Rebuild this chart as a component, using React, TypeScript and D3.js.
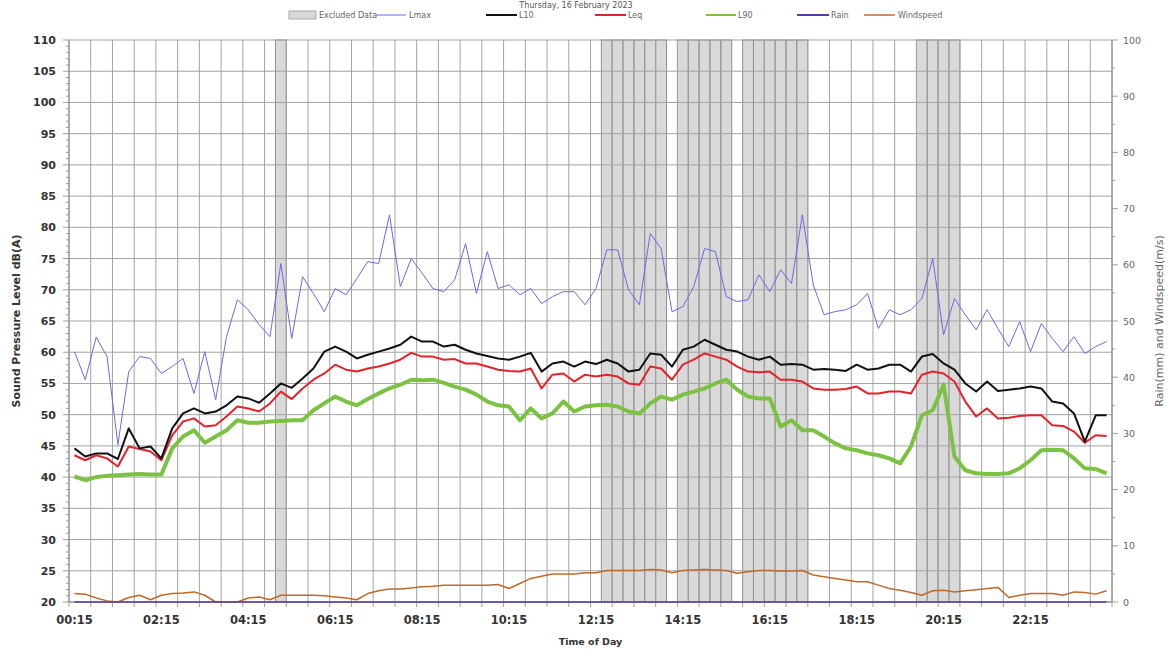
import React from 'react';
import * as d3 from 'd3';

const W = 1173;
const H = 650;

const titleText = 'Thursday, 16 February 2023';

// 15-minute interval end times, 00:15 ... 00:00 (midnight)
const categories: string[] = d3.range(96).map((i) => {
  const m = (i + 1) * 15;
  const h = Math.floor(m / 60) % 24;
  const mm = m % 60;
  return `${String(h).padStart(2, '0')}:${String(mm).padStart(2, '0')}`;
});

const xTickLabels = ['00:15', '02:15', '04:15', '06:15', '08:15', '10:15', '12:15', '14:15', '16:15', '18:15', '20:15', '22:15'];
const leftTicks = [20, 25, 30, 35, 40, 45, 50, 55, 60, 65, 70, 75, 80, 85, 90, 95, 100, 105, 110];
const rightTicks = [0, 10, 20, 30, 40, 50, 60, 70, 80, 90, 100];

const excluded = ['05:00', '12:30', '12:45', '13:00', '13:15', '13:30', '13:45', '14:15', '14:30', '14:45', '15:00', '15:15', '15:45', '16:00', '16:15', '16:30', '16:45', '17:00', '19:45', '20:00', '20:15', '20:30'];

const lmax = [
  60.1, 55.6, 62.4, 59.3, 45.2, 56.9, 59.3, 59.0, 56.6, 57.7, 59.0, 53.4, 60.1, 52.4, 62.5, 68.4, 66.8, 64.4, 62.5, 74.2, 62.2, 72.1, 69.4, 66.5,
  70.2, 69.2, 71.8, 74.5, 74.2, 82.0, 70.5, 75.0, 72.7, 70.2, 69.7, 71.6, 77.4, 69.4, 76.1, 70.2, 70.8, 69.2, 70.2, 67.8, 68.9, 69.7, 69.7, 67.6,
  70.2, 76.4, 76.4, 70.0, 67.6, 79.0, 76.6, 66.5, 67.3, 70.5, 76.6, 76.1, 68.9, 68.1, 68.4, 72.4, 69.7, 73.2, 71.0, 82.0, 70.8, 66.0, 66.5, 66.8,
  67.6, 69.4, 63.8, 66.8, 66.0, 66.8, 68.6, 75.0, 62.8, 68.6, 66.0, 63.6, 66.8, 63.8, 60.9, 64.9, 60.1, 64.6, 62.2, 60.1, 62.5, 59.8, 60.9, 61.7,
];

const l10 = [
  44.6, 43.3, 43.8, 43.8, 42.9, 47.8, 44.6, 44.9, 43.0, 47.8, 50.2, 51.0, 50.2, 50.5, 51.5, 52.9, 52.6, 51.9, 53.4, 55.0, 54.3, 55.8, 57.4, 60.1,
  60.9, 60.1, 59.0, 59.6, 60.1, 60.6, 61.2, 62.5, 61.7, 61.7, 60.9, 61.2, 60.4, 59.8, 59.4, 59.0, 58.8, 59.3, 59.9, 56.9, 58.2, 58.5, 57.7, 58.5,
  58.1, 58.8, 58.2, 56.9, 57.2, 59.8, 59.6, 57.7, 60.4, 60.9, 62.0, 61.2, 60.4, 60.1, 59.3, 58.8, 59.3, 58.0, 58.1, 58.0, 57.2, 57.3, 57.2, 57.0,
  58.0, 57.2, 57.4, 58.0, 58.0, 56.9, 59.3, 59.7, 58.2, 57.2, 55.0, 53.7, 55.3, 53.8, 54.0, 54.2, 54.5, 54.2, 52.1, 51.8, 50.2, 45.7, 49.9, 49.9,
];

const leq = [
  43.5, 42.7, 43.5, 43.0, 41.7, 44.9, 44.5, 44.1, 42.7, 46.7, 48.9, 49.4, 48.1, 48.3, 49.7, 51.3, 51.0, 50.5, 51.8, 53.7, 52.5, 54.2, 55.6, 56.6,
  58.0, 57.2, 56.9, 57.4, 57.7, 58.2, 58.8, 59.9, 59.3, 59.3, 58.8, 58.9, 58.2, 58.2, 57.7, 57.2, 57.0, 56.9, 57.4, 54.2, 56.4, 56.6, 55.3, 56.4,
  56.1, 56.4, 56.1, 55.0, 54.8, 57.7, 57.4, 55.6, 58.0, 58.8, 59.8, 59.3, 58.8, 57.7, 56.9, 56.8, 56.9, 55.6, 55.6, 55.3, 54.2, 54.0, 54.0, 54.1,
  54.5, 53.4, 53.4, 53.7, 53.7, 53.4, 56.4, 56.9, 56.6, 55.3, 52.1, 49.7, 51.0, 49.4, 49.5, 49.8, 49.9, 49.9, 48.3, 48.2, 47.3, 45.5, 46.7, 46.6,
];

const l90 = [
  40.1, 39.5, 40.0, 40.2, 40.3, 40.4, 40.5, 40.4, 40.4, 44.6, 46.5, 47.5, 45.5, 46.5, 47.5, 49.1, 48.7, 48.7, 48.9, 49.0, 49.1, 49.1, 50.7, 51.8,
  52.9, 52.1, 51.5, 52.5, 53.4, 54.2, 54.8, 55.6, 55.5, 55.6, 55.1, 54.5, 54.0, 53.2, 52.1, 51.5, 51.3, 49.1, 51.0, 49.4, 50.2, 52.1, 50.5, 51.3,
  51.5, 51.6, 51.3, 50.5, 50.2, 51.8, 52.9, 52.4, 53.2, 53.7, 54.2, 55.0, 55.6, 54.0, 52.9, 52.6, 52.6, 48.1, 49.1, 47.5, 47.5, 46.5, 45.4, 44.6,
  44.3, 43.8, 43.5, 43.0, 42.2, 44.9, 49.9, 50.7, 54.8, 43.3, 41.1, 40.6, 40.5, 40.5, 40.6, 41.4, 42.7, 44.3, 44.4, 44.3, 43.0, 41.4, 41.3, 40.6,
];

const rain = [
  0, 0, 0, 0, 0, 0, 0, 0, 0, 0, 0, 0, 0, 0, 0, 0, 0, 0, 0, 0, 0, 0, 0, 0,
  0, 0, 0, 0, 0, 0, 0, 0, 0, 0, 0, 0, 0, 0, 0, 0, 0, 0, 0, 0, 0, 0, 0, 0,
  0, 0, 0, 0, 0, 0, 0, 0, 0, 0, 0, 0, 0, 0, 0, 0, 0, 0, 0, 0, 0, 0, 0, 0,
  0, 0, 0, 0, 0, 0, 0, 0, 0, 0, 0, 0, 0, 0, 0, 0, 0, 0, 0, 0, 0, 0, 0, 0,
];

const windspeed = [
  1.5, 1.4, 0.7, 0.2, 0.0, 0.8, 1.2, 0.4, 1.2, 1.5, 1.6, 1.8, 1.2, 0.0, 0.0, 0.0, 0.7, 0.9, 0.4, 1.2, 1.2, 1.2, 1.2, 1.1,
  0.9, 0.7, 0.4, 1.5, 2.0, 2.3, 2.3, 2.5, 2.7, 2.8, 3.0, 3.0, 3.0, 3.0, 3.0, 3.1, 2.4, 3.3, 4.2, 4.6, 5.0, 5.0, 5.0, 5.2,
  5.2, 5.6, 5.6, 5.6, 5.6, 5.8, 5.7, 5.2, 5.6, 5.7, 5.8, 5.7, 5.6, 5.1, 5.4, 5.6, 5.6, 5.5, 5.5, 5.6, 4.8, 4.5, 4.2, 3.9,
  3.6, 3.6, 3.0, 2.4, 2.1, 1.7, 1.2, 2.0, 2.1, 1.8, 2.0, 2.2, 2.4, 2.6, 0.8, 1.2, 1.5, 1.5, 1.5, 1.2, 1.8, 1.7, 1.4, 2.0,
];

const COLORS = {
  lmax: '#6a6ae6',
  l10: '#111111',
  leq: '#e3222b',
  l90: '#7cc242',
  rain: '#5a3ca6',
  wind: '#bf6a2a',
  excl: '#d9d9d9',
  exclStroke: '#8f8f8f',
  grid: '#a3a3a3',
};

const PL = 69;
const PR = 1112;
const PT = 40;
const PB = 602;

export default function App() {
  const x = d3.scaleBand<string>().domain(categories).range([PL, PR]).padding(0);
  const bw = x.bandwidth();
  const xc = (c: string) => (x(c) as number) + bw / 2;
  const yL = d3.scaleLinear().domain([20, 110]).range([PB, PT]);
  const yR = d3.scaleLinear().domain([0, 100]).range([PB, PT]);

  const lineL = d3
    .line<number>()
    .x((_, i) => xc(categories[i]))
    .y((d) => yL(d));
  const lineR = d3
    .line<number>()
    .x((_, i) => xc(categories[i]))
    .y((d) => yR(d));

  const vGrid = categories.filter((_, i) => i % 2 === 0).map((c) => x(c) as number).concat([PR]);
  const minorL = d3.range(20, 111, 1);
  const minorR = d3.range(0, 101, 5);

  const font = 'DejaVu Sans, Verdana, sans-serif';

  const legend = [
    { kind: 'rect', label: 'Excluded Data', x0: 289, x1: 316, tx: 319 },
    { kind: 'line', label: 'Lmax', color: COLORS.lmax, w: 1, x0: 376, x1: 406, tx: 409 },
    { kind: 'line', label: 'L10', color: COLORS.l10, w: 2, x0: 486, x1: 517, tx: 519 },
    { kind: 'line', label: 'Leq', color: COLORS.leq, w: 2, x0: 595, x1: 626, tx: 628 },
    { kind: 'line', label: 'L90', color: COLORS.l90, w: 2, x0: 706, x1: 736, tx: 738 },
    { kind: 'line', label: 'Rain', color: COLORS.rain, w: 2, x0: 797, x1: 829, tx: 831 },
    { kind: 'line', label: 'Windspeed', color: COLORS.wind, w: 1.5, x0: 864, x1: 895, tx: 898 },
  ];

  return (
    <svg
      width={W}
      height={H}
      viewBox={`0 0 ${W} ${H}`}
      style={{ position: 'absolute', left: 0, top: 0, background: '#fff' }}
      fontFamily={font}
    >
      <rect x={0} y={0} width={W} height={H} fill="#fff" />
      {/* title */}
      <text x={576} y={8} textAnchor="middle" fontSize={8} fill="#555">
        {titleText}
      </text>
      {/* legend */}
      {legend.map((l) => (
        <g key={l.label}>
          {l.kind === 'rect' ? (
            <rect x={l.x0} y={11} width={l.x1 - l.x0} height={8} fill={COLORS.excl} stroke="#9a9a9a" strokeWidth={0.8} />
          ) : (
            <line x1={l.x0} x2={l.x1} y1={15} y2={15} stroke={l.color} strokeWidth={l.w} />
          )}
          <text x={l.tx} y={18} fontSize={8} fill="#666">
            {l.label}
          </text>
        </g>
      ))}

      {/* excluded data bars */}
      {excluded.map((c) => (
        <rect key={c} x={x(c) as number} y={PT} width={bw} height={PB - PT} fill={COLORS.excl} stroke={COLORS.exclStroke} strokeWidth={1} />
      ))}

      {/* grid */}
      {leftTicks.map((t) => (
        <line key={'h' + t} x1={PL} x2={PR} y1={yL(t)} y2={yL(t)} stroke={COLORS.grid} strokeWidth={1} />
      ))}
      {vGrid.map((gx, i) => (
        <line key={'v' + i} x1={gx} x2={gx} y1={PT} y2={PB} stroke={COLORS.grid} strokeWidth={1} />
      ))}

      {/* axes */}
      <line x1={PL} x2={PL} y1={PT} y2={PB} stroke="#888" strokeWidth={1} />
      <line x1={PR} x2={PR} y1={PT} y2={PB} stroke="#888" strokeWidth={1} />
      <line x1={PL} x2={PR} y1={PB} y2={PB} stroke="#888" strokeWidth={1} />
      {minorL.map((t) => (
        <line key={'ml' + t} x1={PL - (t % 5 === 0 ? 6 : 3)} x2={PL} y1={yL(t)} y2={yL(t)} stroke="#888" strokeWidth={0.8} />
      ))}
      {minorR.map((t) => (
        <line key={'mr' + t} x1={PR} x2={PR + (t % 10 === 0 ? 6 : 3)} y1={yR(t)} y2={yR(t)} stroke="#888" strokeWidth={0.8} />
      ))}
      {vGrid.map((gx, i) => (
        <line key={'xt' + i} x1={gx} x2={gx} y1={PB} y2={PB + 5} stroke="#888" strokeWidth={0.8} />
      ))}

      {/* left tick labels */}
      {leftTicks.map((t) => (
        <text key={'lt' + t} x={56} y={yL(t) + 4} textAnchor="end" fontSize={11} fontWeight="bold" fill="#333">
          {t}
        </text>
      ))}
      {/* right tick labels */}
      {rightTicks.map((t) => (
        <text key={'rt' + t} x={1123} y={yR(t) + 3.5} textAnchor="start" fontSize={9.5} fill="#666">
          {t}
        </text>
      ))}
      {/* x tick labels */}
      {xTickLabels.map((c) => (
        <text key={'xl' + c} x={xc(c)} y={624} textAnchor="middle" fontSize={11.5} fontWeight="bold" fill="#333">
          {c}
        </text>
      ))}

      {/* axis titles */}
      <text x={(PL + PR) / 2} y={645} textAnchor="middle" fontSize={9.5} fontWeight="bold" fill="#333">
        Time of Day
      </text>
      <text
        transform={`translate(20, ${(PT + PB) / 2}) rotate(-90)`}
        textAnchor="middle"
        fontSize={11}
        fontWeight="bold"
        fill="#333"
      >
        Sound Pressure Level dB(A)
      </text>
      <text
        transform={`translate(1163, ${(PT + PB) / 2}) rotate(-90)`}
        textAnchor="middle"
        fontSize={11}
        fill="#666"
      >
        Rain(mm) and Windspeed(m/s)
      </text>

      {/* series */}
      <path d={lineR(windspeed) || ''} fill="none" stroke={COLORS.wind} strokeWidth={1.5} strokeLinejoin="round" />
      <path d={lineR(rain) || ''} fill="none" stroke={COLORS.rain} strokeWidth={1.5} />
      <path d={lineL(lmax) || ''} fill="none" stroke={COLORS.lmax} strokeWidth={1} strokeLinejoin="round" />
      <path d={lineL(l90) || ''} fill="none" stroke={COLORS.l90} strokeWidth={4} strokeLinejoin="round" />
      <path d={lineL(leq) || ''} fill="none" stroke={COLORS.leq} strokeWidth={2} strokeLinejoin="round" />
      <path d={lineL(l10) || ''} fill="none" stroke={COLORS.l10} strokeWidth={2} strokeLinejoin="round" />
    </svg>
  );
}
